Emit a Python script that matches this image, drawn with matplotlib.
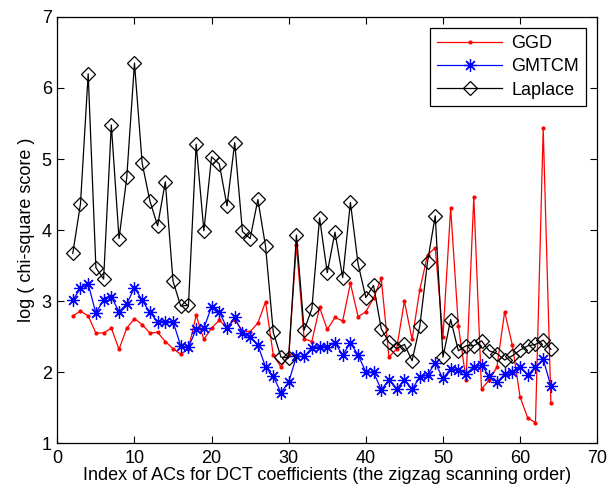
import matplotlib
matplotlib.use("Agg")
import matplotlib.pyplot as plt

plt.rcParams['font.family'] = ['Liberation Sans', 'DejaVu Sans']

# indice dos coeficientes AC (ordem zigzag)
indices = list(range(2, 65))

ggd = [2.79, 2.86, 2.79, 2.55, 2.55, 2.62, 2.32, 2.62, 2.75, 2.67,
       2.55, 2.56, 2.43, 2.33, 2.25, 2.33, 2.80, 2.46, 2.62, 2.73,
       2.63, 2.74, 2.58, 2.57, 2.69, 2.99, 2.24, 2.07, 2.24, 3.79,
       2.47, 2.43, 2.91, 2.60, 2.77, 2.72, 3.25, 2.78, 2.85, 3.04,
       3.32, 2.21, 2.33, 3.00, 2.46, 3.16, 3.65, 3.75, 2.50, 4.31,
       2.65, 1.89, 4.47, 1.76, 1.89, 2.07, 2.85, 2.38, 1.65, 1.35,
       1.29, 5.43, 1.56]

gmtcm = [3.01, 3.18, 3.24, 2.83, 3.02, 3.06, 2.85, 2.96, 3.19, 3.01,
         2.84, 2.71, 2.71, 2.71, 2.37, 2.35, 2.60, 2.62, 2.92, 2.85,
         2.62, 2.77, 2.55, 2.49, 2.38, 2.07, 1.94, 1.71, 1.86, 2.22,
         2.22, 2.34, 2.36, 2.36, 2.41, 2.24, 2.41, 2.24, 2.00, 2.00,
         1.75, 1.89, 1.76, 1.89, 1.76, 1.93, 1.96, 2.13, 1.91, 2.05,
         2.03, 1.98, 2.07, 2.10, 1.94, 1.86, 1.97, 2.00, 2.07, 1.96,
         2.07, 2.18, 1.80]

laplace = [3.67, 4.37, 6.20, 3.47, 3.31, 5.48, 3.88, 4.74, 6.35, 4.94,
           4.41, 4.06, 4.68, 3.28, 2.93, 2.94, 5.21, 3.99, 5.03, 4.93,
           4.34, 5.23, 3.98, 3.88, 4.43, 3.77, 2.56, 2.21, 2.20, 3.93,
           2.59, 2.89, 4.17, 3.40, 3.97, 3.33, 4.39, 3.52, 3.05, 3.22,
           2.61, 2.42, 2.33, 2.39, 2.16, 2.65, 3.55, 4.20, 2.21, 2.74,
           2.30, 2.37, 2.37, 2.44, 2.30, 2.26, 2.17, 2.23, 2.31, 2.37,
           2.39, 2.45, 2.32]

fig = plt.figure(figsize=(6.1, 4.99), dpi=100)
ax = fig.add_axes([0.094, 0.112, 0.885, 0.854])

ax.plot(indices, ggd, color='red', lw=0.9, marker='.', ms=4, label='GGD')
ax.plot(indices, gmtcm, color='blue', lw=0.9, marker=(8, 2, 0), ms=9,
        mew=0.9, label='GMTCM')
ax.plot(indices, laplace, color='black', lw=0.9, marker='D', ms=7.5,
        mfc='none', mew=0.9, label='Laplace')

ax.set_xlim(0, 70)
ax.set_ylim(1, 7)
ax.set_xticks(range(0, 71, 10))
ax.set_yticks(range(1, 8))
ax.tick_params(direction='in', top=True, right=True, length=5,
               labelsize=13)
ax.tick_params(axis='x', pad=5)
ax.tick_params(axis='y', pad=4)
for s in ax.spines.values():
    s.set_linewidth(0.9)

ax.set_xlabel("Index of ACs for DCT coefficients (the zigzag scanning order)",
              fontsize=13, labelpad=0)
ax.set_ylabel("log ( chi-square score )", fontsize=13, labelpad=5)

leg = ax.legend(loc='upper right', fontsize=13, handlelength=3.6,
                fancybox=False, edgecolor='black', framealpha=1,
                borderaxespad=0.6, labelspacing=0.35, handletextpad=0.5)
leg.get_frame().set_linewidth(0.9)

fig.savefig("out.png", dpi=100)
